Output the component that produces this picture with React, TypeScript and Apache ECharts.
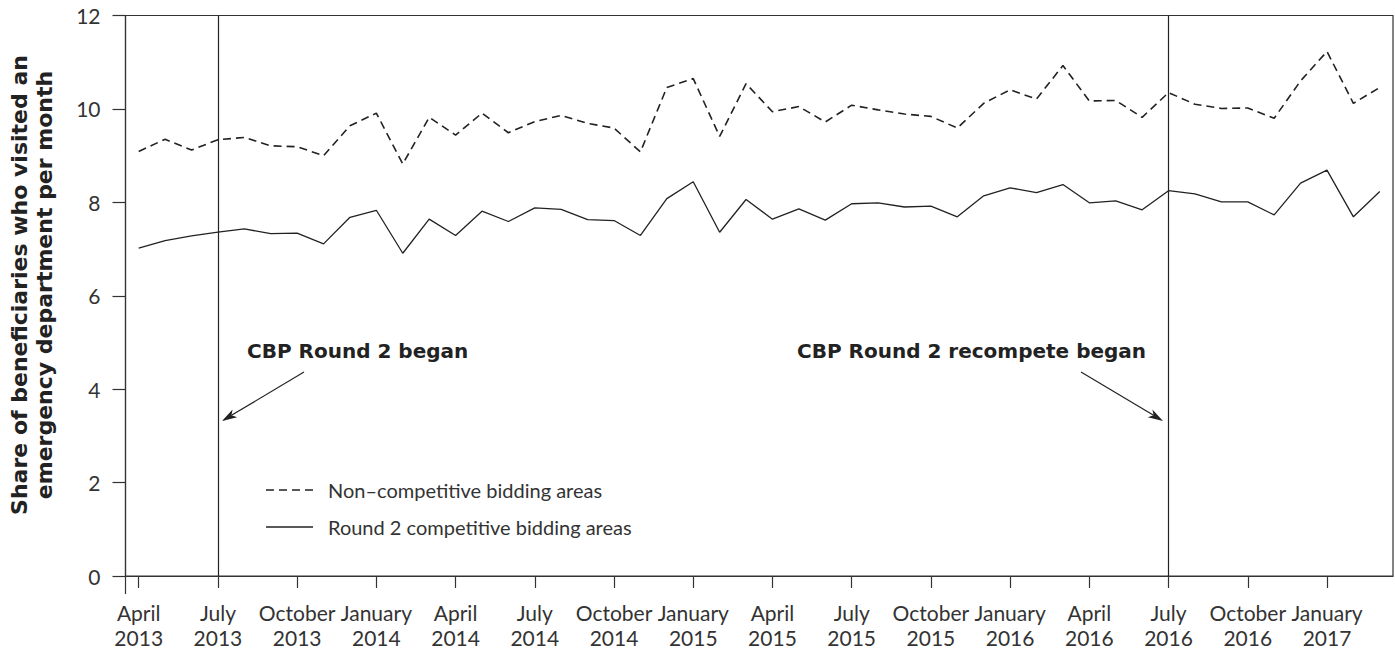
import React, { useEffect, useRef } from "react";
import * as echarts from "echarts";

const MONTH_NAMES = [
  "January", "February", "March", "April", "May", "June",
  "July", "August", "September", "October", "November", "December",
];
const START_YEAR = 2013;
const START_MONTH = 3; // April
const N_MONTHS = 48;

const categories: string[] = Array.from({ length: N_MONTHS }, (_, i) => {
  const m = (START_MONTH + i) % 12;
  const y = START_YEAR + Math.floor((START_MONTH + i) / 12);
  return `${MONTH_NAMES[m]} ${y}`;
});

const nonCompetitive = [
  9.09, 9.35, 9.12, 9.34, 9.39, 9.21, 9.19, 9.0, 9.64, 9.91, 8.82, 9.82, 9.44, 9.91,
  9.49, 9.73, 9.86, 9.69, 9.59, 9.08, 10.46, 10.65, 9.41, 10.54, 9.94, 10.05, 9.72,
  10.08, 9.98, 9.89, 9.84, 9.59, 10.12, 10.41, 10.21, 10.93, 10.17, 10.18, 9.82,
  10.35, 10.1, 10.01, 10.02, 9.8, 10.6, 11.23, 10.12, 10.46,
];

const competitive = [
  7.02, 7.18, 7.28, 7.36, 7.43, 7.33, 7.34, 7.11, 7.68, 7.83, 6.91, 7.64, 7.29, 7.81,
  7.59, 7.88, 7.85, 7.63, 7.61, 7.29, 8.08, 8.44, 7.36, 8.06, 7.64, 7.86, 7.62, 7.97,
  7.99, 7.9, 7.92, 7.69, 8.14, 8.31, 8.21, 8.38, 7.99, 8.03, 7.84, 8.25, 8.18, 8.01,
  8.01, 7.73, 8.41, 8.69, 7.69, 8.23,
];

const seriesNames = ["Non–competitive bidding areas", "Round 2 competitive bidding areas"];
const eventCategories = ["July 2013", "July 2016"];
const eventLabels = ["CBP Round 2 began", "CBP Round 2 recompete began"];
const yTitleLines = [
  "Share of beneficiaries who visited an",
  "emergency department per month",
];

const FONT = "Lato, 'Noto Sans', sans-serif";
const BOLD_FONT = "'DejaVu Sans', 'Noto Sans', sans-serif";
const INK = "#222";
const DASH = [8, 5];

function arrow(x1: number, y1: number, x2: number, y2: number) {
  const dx = x2 - x1;
  const dy = y2 - y1;
  const len = Math.sqrt(dx * dx + dy * dy);
  const ux = dx / len;
  const uy = dy / len;
  const nx = -uy;
  const ny = ux;
  const hl = 15;
  const hw = 4.5;
  const notch = 11;
  return [
    {
      type: "line",
      shape: { x1, y1, x2: x2 - ux * notch, y2: y2 - uy * notch },
      style: { stroke: INK, lineWidth: 1.2 },
    },
    {
      type: "polygon",
      shape: {
        points: [
          [x2, y2],
          [x2 - ux * hl + nx * hw, y2 - uy * hl + ny * hw],
          [x2 - ux * notch, y2 - uy * notch],
          [x2 - ux * hl - nx * hw, y2 - uy * hl - ny * hw],
        ],
      },
      style: { fill: INK },
    },
  ];
}

function legendItem(y: number, name: string, dashed: boolean) {
  return [
    {
      type: "line",
      shape: { x1: 266, y1: y, x2: 313, y2: y },
      style: { stroke: INK, lineWidth: 1.3, lineDash: dashed ? DASH : null },
    },
    {
      type: "text",
      x: 328,
      y,
      style: {
        text: name,
        fontFamily: FONT,
        fontSize: 20,
        fill: "#333",
        align: "left",
        verticalAlign: "middle",
      },
    },
  ];
}

export default function App() {
  const ref = useRef<HTMLDivElement>(null);

  useEffect(() => {
    if (!ref.current) return;
    const chart = echarts.init(ref.current, undefined, { renderer: "svg" });

    const titleText = (text: string, x: number) => ({
      type: "text",
      x,
      y: 285,
      rotation: Math.PI / 2,
      style: {
        text,
        fontFamily: BOLD_FONT,
        fontWeight: "bold",
        fontSize: 22,
        fill: INK,
        align: "center",
        verticalAlign: "middle",
      },
    });

    const eventText = (text: string, x: number) => ({
      type: "text",
      x,
      y: 351,
      style: {
        text,
        fontFamily: BOLD_FONT,
        fontWeight: "bold",
        fontSize: 20,
        fill: INK,
        align: "left",
        verticalAlign: "middle",
      },
    });

    const option: any = {
      animation: false,
      backgroundColor: "#fff",
      grid: {
        left: 125.5,
        right: 2,
        top: 15.5,
        bottom: 73,
        show: true,
        borderColor: "#333",
        borderWidth: 1.2,
        backgroundColor: "transparent",
      },
      xAxis: {
        type: "category",
        data: categories,
        boundaryGap: true,
        axisLine: { show: true, lineStyle: { color: "#333", width: 1.2 } },
        axisTick: {
          show: true,
          interval: 2,
          alignWithLabel: true,
          length: 12,
          lineStyle: { color: "#333", width: 1.2 },
        },
        axisLabel: {
          interval: 2,
          margin: 24,
          fontFamily: FONT,
          fontSize: 21,
          lineHeight: 25,
          color: "#333",
          formatter: (v: string) => v.replace(" ", "\n"),
        },
        splitLine: { show: false },
      },
      yAxis: {
        type: "value",
        min: 0,
        max: 12,
        interval: 2,
        axisLine: { show: true, lineStyle: { color: "#333", width: 1.2 } },
        axisTick: { show: true, length: 13, lineStyle: { color: "#333", width: 1.2 } },
        axisLabel: {
          margin: 25,
          fontFamily: FONT,
          fontSize: 21,
          color: "#333",
        },
        splitLine: { show: false },
      },
      series: [
        {
          name: seriesNames[0],
          type: "line",
          data: nonCompetitive,
          symbol: "none",
          lineStyle: { color: INK, width: 1.6, type: DASH },
          itemStyle: { color: INK },
          markLine: {
            silent: true,
            symbol: "none",
            label: { show: false },
            lineStyle: { color: INK, width: 1.2, type: "solid" },
            data: eventCategories.map((c) => ({ xAxis: c })),
          },
        },
        {
          name: seriesNames[1],
          type: "line",
          data: competitive,
          symbol: "none",
          lineStyle: { color: INK, width: 1.3, type: "solid" },
          itemStyle: { color: INK },
        },
      ],
      graphic: [
        titleText(yTitleLines[0], 19),
        titleText(yTitleLines[1], 44),
        eventText(eventLabels[0], 247),
        eventText(eventLabels[1], 797),
        ...arrow(304, 372, 222, 421),
        ...arrow(1081, 372, 1163, 421),
        ...legendItem(490, seriesNames[0], true),
        ...legendItem(527, seriesNames[1], false),
        {
          type: "line",
          shape: { x1: 125.5, y1: 577, x2: 125.5, y2: 594 },
          style: { stroke: "#333", lineWidth: 1.2 },
        },
      ],
    };

    chart.setOption(option);
    return () => chart.dispose();
  }, []);

  return (
    <div
      ref={ref}
      style={{ position: "absolute", left: 0, top: 0, width: 1395, height: 650 }}
    />
  );
}
